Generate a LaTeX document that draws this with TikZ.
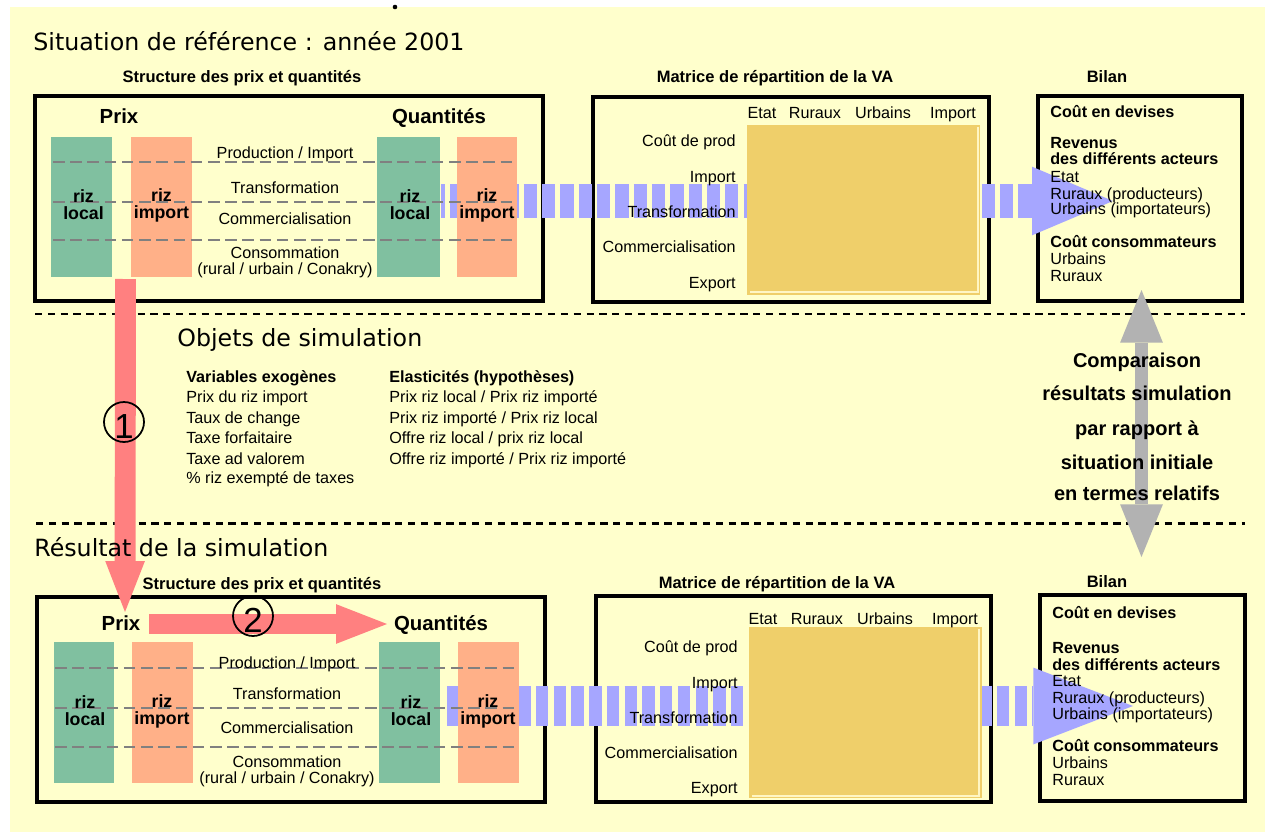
\documentclass[tikz,border=0pt]{standalone}
\usepackage{fontspec}
\setmainfont{Liberation Sans}
\newfontfamily\comicfont{DejaVu Sans}
\usetikzlibrary{arrows.meta,fit}

\definecolor{bgyellow}{RGB}{255,255,204}
\definecolor{rizgreen}{RGB}{128,192,160}
\definecolor{rizorange}{RGB}{255,176,136}
\definecolor{arrowpink}{RGB}{255,128,128}
\definecolor{flowblue}{RGB}{166,166,255}
\definecolor{matgold}{RGB}{239,207,106}
\definecolor{cellpale}{RGB}{255,246,196}
\definecolor{arrowgrey}{RGB}{178,178,178}
\definecolor{stagegrey}{RGB}{128,128,128}

\begin{document}
\begin{tikzpicture}[x=0.02cm, y=-0.02cm,
    framebox/.style={draw, line width=1.8pt, inner sep=0pt},
    localbar/.style={fill=rizgreen, inner sep=0pt},
    importbar/.style={fill=rizorange, inner sep=0pt},
    goldbox/.style={fill=matgold, inner sep=0pt},
    cellline/.style={draw=cellpale, line width=0.6pt},
    stage/.style={draw=stagegrey, line width=1.5pt, dash pattern=on 6.6pt off 3.2pt},
    separator/.style={draw=black, line width=1.7pt, dash pattern=on 4.1pt off 3.2pt},
    flowtop/.style={draw=flowblue, line width=19.3pt, dash pattern=on 7.54pt off 2.89pt, dash phase=5.1pt,
        -{Triangle[length=46pt, width=39pt, line width=0pt]}},
    flowbot/.style={draw=flowblue, line width=22.7pt, dash pattern=on 7.03pt off 3.06pt, dash phase=8.16pt,
        -{Triangle[length=56.7pt, width=43.7pt, line width=0pt]}},
    pinkflow/.style={draw=arrowpink, line width=11.9pt,
        -{Triangle[length=29pt, width=22.6pt, line width=0pt]}},
    greyflow/.style={draw=arrowgrey, line width=7.4pt,
        {Triangle[length=30pt, width=24.4pt, line width=0pt]}-{Triangle[length=30pt, width=24.4pt, line width=0pt]}},
    numbered/.style={circle, draw, line width=1pt, minimum size=0.8cm, inner sep=0pt,
        font=\fontsize{19.8}{20}\selectfont, text height=18.7pt, text depth=0pt},
    sectiontitle/.style={font=\comicfont\fontsize{13.5}{16}\selectfont, inner sep=0pt,
        text height=9.8pt, text depth=0pt, anchor=west},
    blocktitle/.style={font=\fontsize{9.4}{11}\selectfont\bfseries, inner sep=0pt, text height=6.7pt, text depth=0pt},
    colhead/.style={font=\fontsize{11.6}{13}\selectfont\bfseries, inner sep=0pt, text height=8.3pt, text depth=0pt},
    rizlabel/.style={font=\fontsize{10.1}{9.7}\selectfont\bfseries, align=center, inner sep=0pt},
    lbl/.style={font=\fontsize{9.2}{11}\selectfont, inner sep=0pt, text height=6.6pt, text depth=0pt},
    lblb/.style={lbl, font=\fontsize{9.2}{11}\selectfont\bfseries},
    cmp/.style={font=\fontsize{11.4}{13}\selectfont\bfseries, inner sep=0pt, text height=8.2pt, text depth=0pt}
]
\useasboundingbox (0,0) rectangle (1265,832);
\fill[white] (0,0) rectangle (1265,832);
\fill[bgyellow] (10,7) rectangle (1265,832);
\fill (395,7) circle[radius=2.3];

% frames
\node[framebox, fit={(35,96) (543,301)}] (pqA) {};
\node[framebox, fit={(593,97) (989,302)}] (vaA) {};
\node[framebox, fit={(1038,96) (1242,301)}] (bilanA) {};
\node[framebox, fit={(37,597) (545,802)}] (pqB) {};
\node[framebox, fit={(596,596) (991,802)}] (vaB) {};
\node[framebox, fit={(1040,595) (1245,801)}] (bilanB) {};

\draw[separator] (35,314) -- (1245,314);
\draw[separator] (36,523) -- (1245,523);

% flows towards the balance
\coordinate (flowA) at (441,201);
\coordinate (flowtipA) at (1113,201);
\draw[flowtop] (flowA) -- (flowtipA);
\coordinate (flowB) at (444,706);
\coordinate (flowtipB) at (1133,706);
\draw[flowbot] (flowB) -- (flowtipB);

% (1) reference situation
\node[localbar, fit={(51,137) (112,277)}] (plA) {};
\node[importbar, fit={(131,137) (192,277)}] (piA) {};
\node[localbar, fit={(377,137) (440,277)}] (qlA) {};
\node[importbar, fit={(457,137) (517,277)}] (qiA) {};
\draw[stage] (53,162) -- (513,162);
\draw[stage] (53,202) -- (513,202);
\draw[stage] (53,240) -- (513,240);

\node[goldbox, fit={(747,125) (980,295)}] (cellsA) {};
\draw[cellline] (750,292) -- (978,292) -- (978,127);

% (2) simulation result
\node[localbar, fit={(54,642) (114,783)}] (plB) {};
\node[importbar, fit={(132,642) (193,783)}] (piB) {};
\node[localbar, fit={(379,642) (440,783)}] (qlB) {};
\node[importbar, fit={(458,642) (519,783)}] (qiB) {};
\draw[stage] (55,668) -- (514,668);
\draw[stage] (55,708) -- (514,708);
\draw[stage] (55,747) -- (514,747);

\node[goldbox, fit={(749,627) (982,798)}] (cellsB) {};
\draw[cellline] (752,796) -- (979,796) -- (979,629);

% simulation arrows
\coordinate (dropA) at (125.5,279);
\coordinate (dropB) at (125,612);
\draw[pinkflow] (dropA) -- (dropB);
\coordinate (pushA) at (149,624);
\coordinate (pushB) at (387,624);
\draw[pinkflow] (pushA) -- (pushB);
\coordinate (cmpA) at (1141.5,290);
\coordinate (cmpB) at (1141.5,557);
\draw[greyflow] (cmpA) -- (cmpB);

\node[numbered] (one) at (124,422) {1};
\node[numbered] (two) at (253,616) {2};

% titles
\node[sectiontitle] (sitA) at (33,42) {Situation de référence : année 2001};
\node[sectiontitle] (objA) at (177,338) {Objets de simulation};
\node[sectiontitle] (resA) at (34,548) {Résultat de la simulation};

\node[blocktitle] (strA) at (242,77) {Structure des prix et quantités};
\node[blocktitle] (matA) at (775,77) {Matrice de répartition de la VA};
\node[blocktitle] (bilA) at (1107,77) {Bilan};
\node[blocktitle] (strB) at (262,584) {Structure des prix et quantités};
\node[blocktitle] (matB) at (777,583) {Matrice de répartition de la VA};
\node[blocktitle] (bilB) at (1107,582) {Bilan};

% price / quantity labels, top
\node[colhead] (prixA) at (119,116) {Prix};
\node[colhead] (qteA) at (439,116) {Quantités};
\node[lbl] (prodA) at (285,153) {Production / Import};
\node[lbl] (trA) at (285,188) {Transformation};
\node[lbl] (comA) at (285,219) {Commercialisation};
\node[lbl] (consA) at (285,253) {Consommation};
\node[lbl] (zoneA) at (285,269) {(rural / urbain / Conakry)};
\node[rizlabel] (rlA) at (83.5,205) {riz\\local};
\node[rizlabel] (riA) at (161.5,205) {riz\\import};
\node[rizlabel] (qrlA) at (410,205) {riz\\local};
\node[rizlabel] (qriA) at (487,205) {riz\\import};

% price / quantity labels, bottom
\node[colhead] (prixB) at (121,623) {Prix};
\node[colhead] (qteB) at (441,623) {Quantités};
\node[lbl] (prodB) at (287,663) {Production / Import};
\node[lbl] (trB) at (287,694) {Transformation};
\node[lbl] (comB) at (287,728) {Commercialisation};
\node[lbl] (consB) at (287,762) {Consommation};
\node[lbl] (zoneB) at (287,778) {(rural / urbain / Conakry)};
\node[rizlabel] (rlB) at (85,711) {riz\\local};
\node[rizlabel] (riB) at (162,711) {riz\\import};
\node[rizlabel] (qrlB) at (411,711) {riz\\local};
\node[rizlabel] (qriB) at (488,711) {riz\\import};

% value added matrix, top
\node[lbl] (etatA) at (762,113) {Etat};
\node[lbl] (rurA) at (815,113) {Ruraux};
\node[lbl] (urbA) at (883,113) {Urbains};
\node[lbl] (impA) at (953,113) {Import};
\node[lbl, anchor=east] (r1A) at (736,141) {Coût de prod};
\node[lbl, anchor=east] (r2A) at (736,177) {Import};
\node[lbl, anchor=east] (r3A) at (736,212) {Transformation};
\node[lbl, anchor=east] (r4A) at (736,247) {Commercialisation};
\node[lbl, anchor=east] (r5A) at (736,283) {Export};

% value added matrix, bottom
\node[lbl] (etatB) at (763,619) {Etat};
\node[lbl] (rurB) at (817,619) {Ruraux};
\node[lbl] (urbB) at (885,619) {Urbains};
\node[lbl] (impB) at (955,619) {Import};
\node[lbl, anchor=east] (r1B) at (738,647) {Coût de prod};
\node[lbl, anchor=east] (r2B) at (738,683) {Import};
\node[lbl, anchor=east] (r3B) at (738,718) {Transformation};
\node[lbl, anchor=east] (r4B) at (738,753) {Commercialisation};
\node[lbl, anchor=east] (r5B) at (738,788) {Export};

% balance, top
\node[lblb, anchor=west] (b1A) at (1050,112) {Coût en devises};
\node[lblb, anchor=west] (b2A) at (1050,143) {Revenus};
\node[lblb, anchor=west] (b3A) at (1050,159) {des différents acteurs};
\node[lbl, anchor=west] (b4A) at (1050,177) {Etat};
\node[lbl, anchor=west] (b5A) at (1050,194) {Ruraux (producteurs)};
\node[lbl, anchor=west] (b6A) at (1050,209) {Urbains (importateurs)};
\node[lblb, anchor=west] (b7A) at (1050,242) {Coût consommateurs};
\node[lbl, anchor=west] (b8A) at (1050,259) {Urbains};
\node[lbl, anchor=west] (b9A) at (1050,276) {Ruraux};

% balance, bottom
\node[lblb, anchor=west] (b1B) at (1052,613) {Coût en devises};
\node[lblb, anchor=west] (b2B) at (1052,648) {Revenus};
\node[lblb, anchor=west] (b3B) at (1052,665) {des différents acteurs};
\node[lbl, anchor=west] (b4B) at (1052,681) {Etat};
\node[lbl, anchor=west] (b5B) at (1052,698) {Ruraux (producteurs)};
\node[lbl, anchor=west] (b6B) at (1052,714) {Urbains (importateurs)};
\node[lblb, anchor=west] (b7B) at (1052,746) {Coût consommateurs};
\node[lbl, anchor=west] (b8B) at (1052,763) {Urbains};
\node[lbl, anchor=west] (b9B) at (1052,780) {Ruraux};

% simulation inputs
\node[lblb, anchor=west] (varA) at (186,377) {Variables exogènes};
\node[lbl, anchor=west] (var1) at (186,397) {Prix du riz import};
\node[lbl, anchor=west] (var2) at (186,418) {Taux de change};
\node[lbl, anchor=west] (var3) at (186,438) {Taxe forfaitaire};
\node[lbl, anchor=west] (var4) at (186,459) {Taxe ad valorem};
\node[lbl, anchor=west] (var5) at (186,478) {\% riz exempté de taxes};
\node[lblb, anchor=west] (elaA) at (389,377) {Elasticités (hypothèses)};
\node[lbl, anchor=west] (ela1) at (389,397) {Prix riz local / Prix riz importé};
\node[lbl, anchor=west] (ela2) at (389,418) {Prix riz importé / Prix riz local};
\node[lbl, anchor=west] (ela3) at (389,438) {Offre riz local / prix riz local};
\node[lbl, anchor=west] (ela4) at (389,459) {Offre riz importé / Prix riz importé};

% comparison
\node[cmp] (c1) at (1137,360) {Comparaison};
\node[cmp] (c2) at (1137,393) {résultats simulation};
\node[cmp] (c3) at (1137,428) {par rapport à};
\node[cmp] (c4) at (1137,462) {situation initiale};
\node[cmp] (c5) at (1137,493) {en termes relatifs};

\end{tikzpicture}
\end{document}
